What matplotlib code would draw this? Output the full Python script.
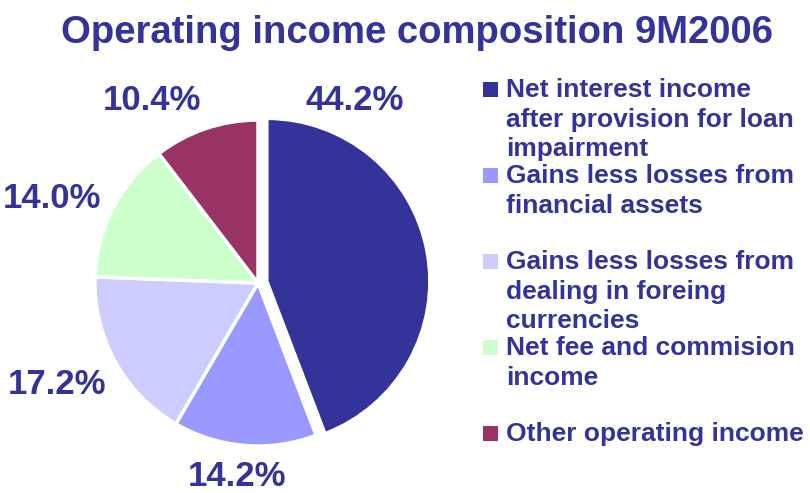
import matplotlib.pyplot as plt
from matplotlib.patches import Rectangle

categories = [
    "Net interest income\nafter provision for loan\nimpairment",
    "Gains less losses from\nfinancial assets",
    "Gains less losses from\ndealing in foreing\ncurrencies",
    "Net fee and commision\nincome",
    "Other operating income",
]
shares = [44.2, 14.2, 17.2, 14.0, 10.4]
colors = ["#333399", "#9999FF", "#CCCCFF", "#CCFFCC", "#993366"]
text_color = "#333399"

# label anchor positions in pixels (x, y from top)
label_pos = [(355, 101), (237, 477), (57, 384), (52, 198), (152, 101)]

W, H = 810, 493
fig = plt.figure(figsize=(W / 100, H / 100), dpi=100)
ax = fig.add_axes([0, 0, 1, 1])

font = "Liberation Sans"

# explode is in data units here (pixels)
ax.pie(
    shares,
    colors=colors,
    startangle=90,
    counterclock=False,
    center=(258, H - 283),
    radius=163,
    explode=[9, 0, 0, 0, 0],
    wedgeprops=dict(edgecolor="white", linewidth=2.5),
    frame=True,
)
ax.set_xlim(0, W)
ax.set_ylim(0, H)
ax.set_aspect("equal")
ax.axis("off")

for v, (x, y) in zip(shares, label_pos):
    ax.text(x, H - y, f"{v:.1f}%", ha="center", va="center",
            fontsize=25, fontweight="bold", color=text_color, family=font)

ax.text(417, H - 33, "Operating income composition 9M2006", ha="center", va="center",
        fontsize=27.5, fontweight="bold", color=text_color, family=font)

# legend
for i, (lab, c) in enumerate(zip(categories, colors)):
    y = 90 + i * 86
    ax.add_patch(Rectangle((483, H - y - 7), 15, 15, facecolor=c, edgecolor="none"))
    ax.text(506, H - y + 12, lab, ha="left", va="top", fontsize=19,
            fontweight="bold", color=text_color, family=font, linespacing=1.3)

fig.savefig("out.png", dpi=100)
